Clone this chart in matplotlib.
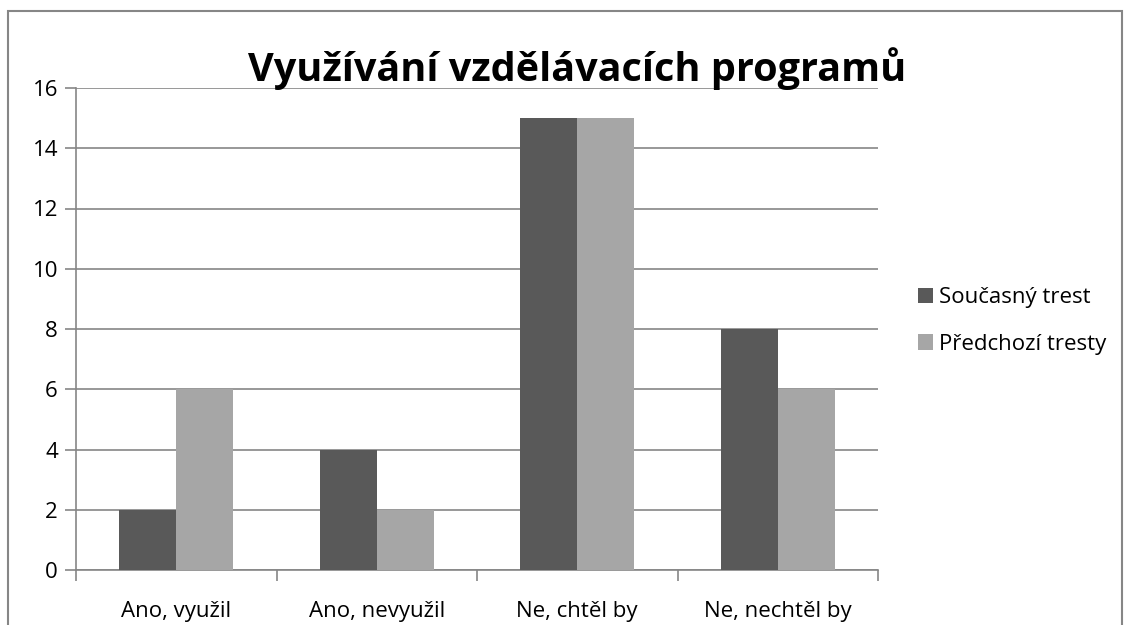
import numpy as np
from matplotlib import pyplot as plt
from matplotlib.patches import Rectangle

categories = ['Ano, využil', 'Ano, nevyužil', 'Ne, chtěl by', 'Ne, nechtěl by']
soucasny = [2, 4, 15, 8]
predchozi = [6, 2, 15, 6]
series_names = ['Současný trest', 'Předchozí tresty']

plt.rcParams['font.family'] = ['Open Sans', 'DejaVu Sans']

fig = plt.figure(figsize=(11.3, 6.25), dpi=100)
ax = fig.add_axes([76 / 1130, 1 - 570 / 625, (878 - 76) / 1130, (570 - 88) / 625])

# frame around the chart (bottom edge is cut off in the reference)
fig.patches.append(Rectangle((8 / 1130, -0.1), (1122 - 8) / 1130, 1.1 - 11 / 625,
                             transform=fig.transFigure, fill=False,
                             edgecolor='#868686', linewidth=1.5))

x = np.arange(len(categories))
w = 0.284
ax.bar(x - w / 2, soucasny, w, color='#595959', label=series_names[0], zorder=3)
ax.bar(x + w / 2, predchozi, w, color='#a6a6a6', label=series_names[1], zorder=3)

ax.set_xlim(-0.5, len(categories) - 0.5)
ax.set_ylim(0, 16)
ax.set_yticks(range(0, 17, 2))
ax.yaxis.grid(True, color='#868686', linewidth=1.2, zorder=0)
ax.tick_params(axis='y', length=8, width=1.2, color='#868686', labelsize=16, pad=5)

ax.set_xticks(np.arange(-0.5, len(categories), 1.0))
ax.set_xticklabels([])
ax.tick_params(axis='x', which='major', length=8, width=1.2, color='#868686')
ax.set_xticks(x, minor=True)
ax.set_xticklabels(categories, minor=True)
ax.tick_params(axis='x', which='minor', length=0, labelsize=16, pad=22)

for s in ['top', 'right']:
    ax.spines[s].set_visible(False)
for s in ['left', 'bottom']:
    ax.spines[s].set_color('#868686')
    ax.spines[s].set_linewidth(1.2)

fig.text(577 / 1130, 1 - 64 / 625, 'Využívání vzdělávacích programů', ha='center', va='center_baseline',
         fontsize=28.5, fontweight='bold')

fig.legend(loc='center left', bbox_to_anchor=(898 / 1130, 1 - 321 / 625), frameon=False,
           fontsize=16, handlelength=0.68, handleheight=0.68, handletextpad=0.25, labelspacing=1.15)

fig.savefig('out.png', dpi=100)
